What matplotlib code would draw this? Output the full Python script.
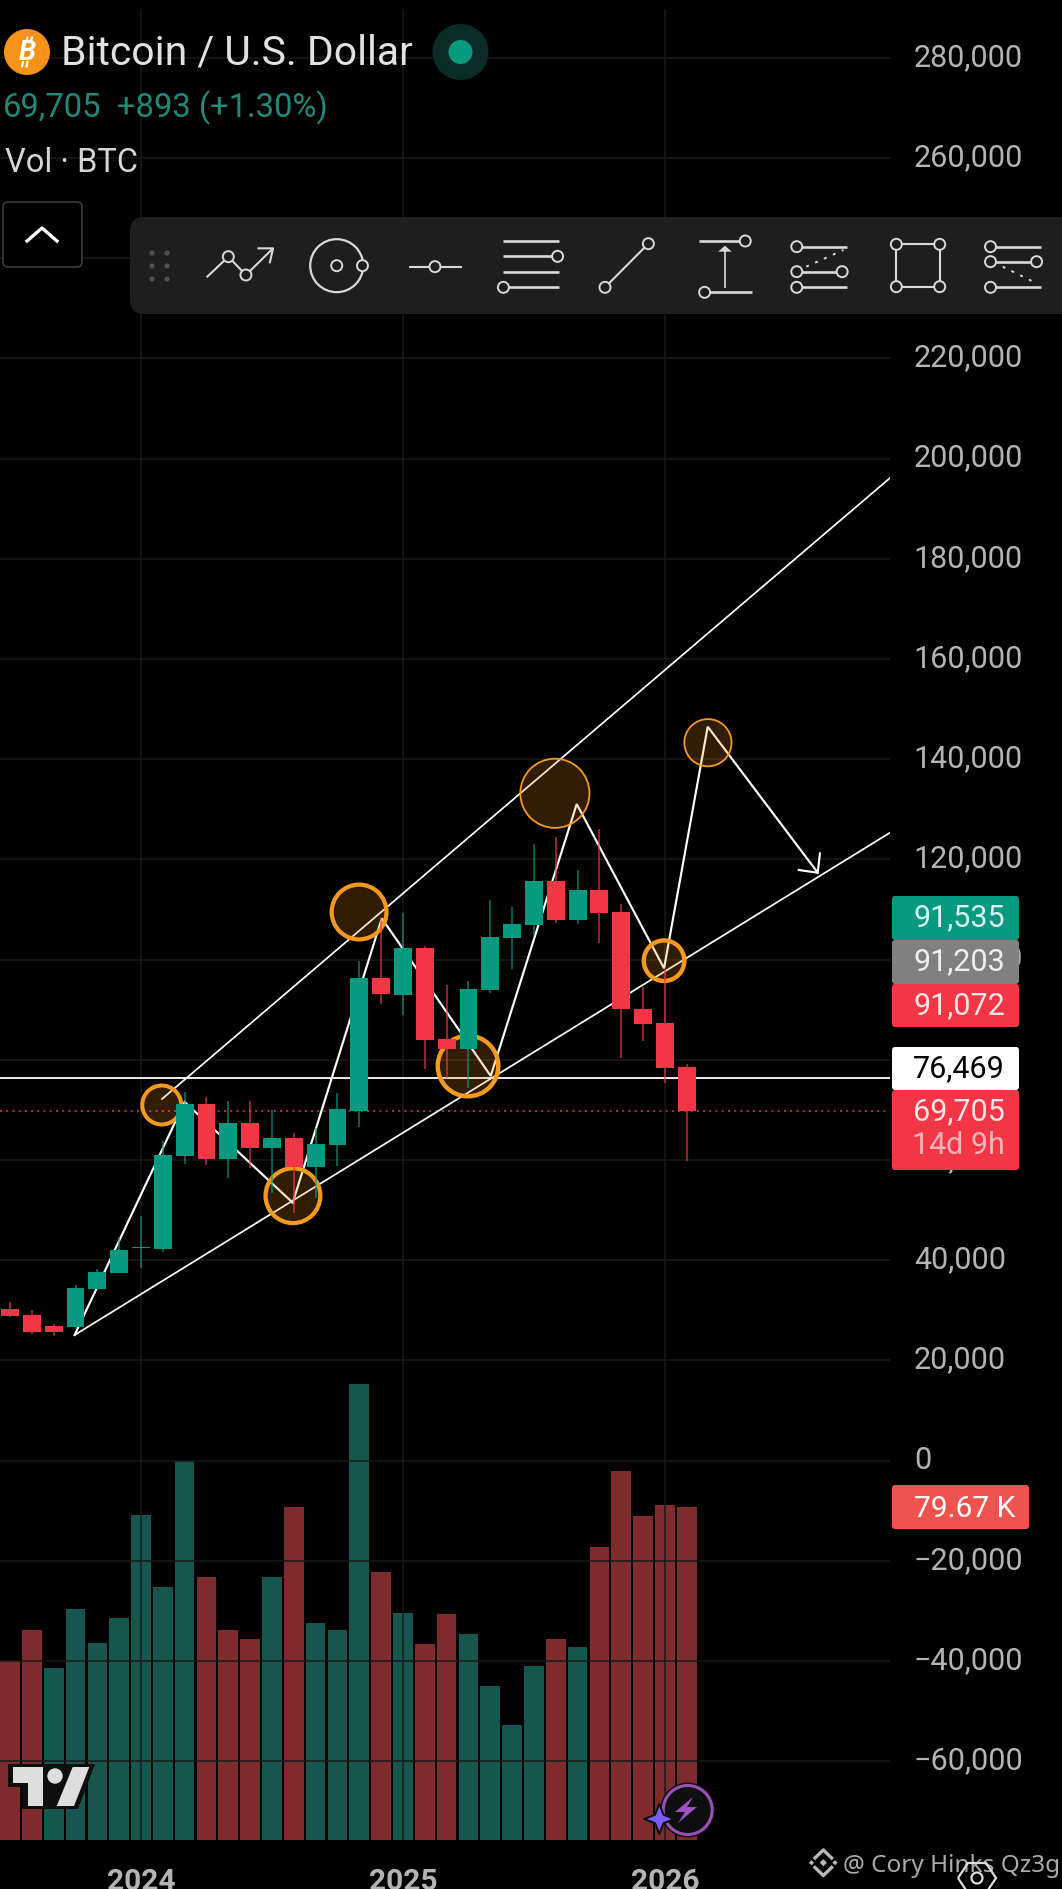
import numpy as np
import matplotlib
matplotlib.use("Agg")
from matplotlib import pyplot as plt
from matplotlib.patches import Circle, FancyBboxPatch, Polygon
from matplotlib.transforms import ScaledTranslation

plt.rcParams['font.family'] = ['Roboto', 'DejaVu Sans']

# months counted from Jan 2024
months = list(range(-6, 26))
opens = [30279, 29082, 26886, 26686, 34271, 37465, 42395, 42255, 60818, 71197, 60219, 67405,
         62415, 64411, 58682, 63014, 69800, 96347, 92954, 102335, 84171, 82175, 93952, 104331,
         106926, 115708, 107924, 113912, 109521, 90159, 87365, 78583]
highs = [31617, 30080, 27285, 35010, 38203, 44710, 48842, 63752, 73533, 72535, 71796, 71796,
         70000, 65349, 66347, 73333, 99740, 108263, 109261, 102734, 94950, 95748, 111916, 110519,
         123093, 124491, 117904, 126087, 111117, 94610, 97944, 79181]
lows = [28742, 25289, 24950, 26287, 34271, 37465, 38523, 41716, 59281, 59022, 56487, 58483,
        53493, 49501, 52435, 58882, 66607, 91157, 88962, 78183, 76387, 74391, 93353, 98143,
        104930, 107325, 107125, 103333, 80379, 83772, 75389, 59820]
closes = [28882, 25689, 25689, 34471, 37665, 42056, 42595, 61018, 71197, 60219, 67405, 62415,
          64411, 58682, 63213, 70199, 96347, 93153, 102335, 83972, 82175, 94151, 104531, 107125,
          115708, 107924, 113912, 109321, 90159, 87165, 78383, 69705]
volumes = [42.8, 50.2, 41.1, 55.3, 47.1, 53.1, 77.8, 60.5, 90.7, 62.9, 50.2, 48.1,
           62.9, 79.7, 51.9, 50.2, 109.1, 64.1, 54.3, 46.9, 54.1, 49.3, 36.8, 27.5,
           41.6, 48.1, 46.2, 70.1, 88.3, 77.5, 80.1, 79.67]
# volume colour does not always follow the candle shown, so keep it
vol_up = [0, 0, 1, 1, 1, 1, 1, 1, 1, 0, 0, 0, 1, 0, 1, 1, 1, 0, 1, 0, 0, 1, 1, 1, 1, 0, 1, 0, 0, 0, 0, 0]

price_ticks = list(range(-60000, 280001, 20000))
year_ticks = [0, 12, 24]
year_labels = ['2024', '2025', '2026']

last_price = 69705
hline_price = 76469

# drawings on the chart (month, price)
upper_x = [0.96, 34.31]
upper_y = [72195, 196147]
lower_x = [-3.04, 34.31]
lower_y = [25090, 125349]
zig_x = [-3.04, 2.0, 6.95, 11.03, 16.02, 19.96, 23.96, 25.96, 31.0]
zig_y = [25090, 71597, 51497, 108263, 76786, 131077, 98283, 146506, 117365]
barb_x = [31.1, 31.0, 30.13]
barb_y = [121237, 117365, 117904]
circle_x = [0.95, 6.96, 9.99, 14.98, 18.96, 23.96, 25.97]
circle_y = [70998, 52894, 109521, 78782, 133213, 99800, 143313]
circle_d = [43, 59, 59, 65, 71, 45, 49]
circle_lw = [4, 4.2, 4.2, 4.4, 1.8, 4.4, 1.8]

GREEN = '#089981'
RED = '#f23645'
VOL_GREEN = '#15574e'
VOL_RED = '#7f2b2e'
GRID = '#191919'
AXTXT = '#b4b4b4'
ORANGE = '#f7931a'
W, H = 1062, 1889

fig = plt.figure(figsize=(W / 100, H / 100), dpi=100, facecolor='black')
ax = fig.add_axes([0, (H - 1840) / H, 890 / W, 1831 / H])
vol = ax.twinx()
ax.set_facecolor('none')
vol.set_facecolor('black')
vol.set_zorder(1)
ax.set_zorder(2)

ax.set_xlim(-6.459, 34.31)
ax.set_ylim(-75709, 289760)
vol.set_ylim(0, 438)
vol.set_yticks([])

bar_col = [VOL_GREEN if u else VOL_RED for u in vol_up]
vol.bar(months, volumes, width=0.9, color=bar_col, linewidth=0)

ax.yaxis.tick_right()
ax.set_yticks(price_ticks)
ax.set_yticklabels([f'{v:,}'.replace('-', '\u2212') for v in price_ticks])
ax.set_xticks(year_ticks)
ax.set_xticklabels(year_labels, fontweight='bold')
ax.tick_params(axis='y', length=0, pad=17.2, labelsize=22, labelcolor=AXTXT)
ax.tick_params(axis='x', length=0, pad=20.5, labelsize=21.5, labelcolor=AXTXT)
# axis labels sit a little above their grid line on this app
lift = ScaledTranslation(0, 0.036, fig.dpi_scale_trans)
for t in ax.get_yticklabels():
    t.set_transform(t.get_transform() + lift)
ax.grid(True, color=GRID, linewidth=1.1, zorder=0)
ax.set_axisbelow(True)
for a in (ax, vol):
    for s in a.spines.values():
        s.set_visible(False)

# drawings sit under the candles, circles tint the lines
ax.axhline(last_price, color=RED, linewidth=1.4, linestyle=(0, (1, 2.2)), alpha=0.8, zorder=2)
ax.axhline(hline_price, color='white', linewidth=1.3, zorder=3)
ax.plot(upper_x, upper_y, color='white', linewidth=1.25, zorder=3)
ax.plot(lower_x, lower_y, color='white', linewidth=1.25, zorder=3)
ax.plot(zig_x, zig_y, color='white', linewidth=1.55, zorder=3, solid_joinstyle='miter')
ax.plot(barb_x, barb_y, color='white', linewidth=1.55, zorder=3)
for x, y, d, lw in zip(circle_x, circle_y, circle_d, circle_lw):
    s = ((d - lw) * 0.72) ** 2
    ax.scatter([x], [y], s=s, color=ORANGE, alpha=0.2, linewidths=0, zorder=4)
    ax.scatter([x], [y], s=s, facecolors='none', edgecolors='#f59a1c', linewidths=lw * 0.72, zorder=5)

# candles
cols = [GREEN if c >= o else RED for o, c in zip(opens, closes)]
ax.vlines(months, lows, highs, colors=cols, linewidth=1.1, alpha=0.8, zorder=6)
bottoms = [min(o, c) for o, c in zip(opens, closes)]
heights = [max(abs(c - o), 150) for o, c in zip(opens, closes)]
ax.bar(months, heights, bottom=bottoms, width=0.82, color=cols, linewidth=0, zorder=7)

# everything that is screen furniture goes on a pixel overlay
ui = fig.add_axes([0, 0, 1, 1], zorder=5)
ui.set_xlim(0, W)
ui.set_ylim(H, 0)
ui.axis('off')


def box(x0, y0, x1, y1, color, r=3, edge='none', lw=0, z=2):
    ui.add_patch(FancyBboxPatch((x0 + r, y0 + r), x1 - x0 - 2 * r, y1 - y0 - 2 * r,
                                boxstyle=f'round,pad={r},rounding_size={r}',
                                facecolor=color, edgecolor=edge, linewidth=lw, zorder=z))


def label(x, y, s, color='white', size=22, ha='left', weight='normal', family=None, z=3):
    ui.text(x, y, s, color=color, fontsize=size, ha=ha, va='center_baseline', fontweight=weight,
            family=family if family else ['Roboto', 'DejaVu Sans'], zorder=z)


# price tags
box(892, 896, 1019, 940, GREEN)
box(892, 940, 1019, 984, '#808080')
box(892, 984, 1019, 1027, RED)
box(892, 1047, 1019, 1090, 'white')
box(892, 1090, 1019, 1170, RED)
box(892, 1485, 1029, 1529, '#ef5350')
label(1005, 915, '91,535', '#d8f5ef', ha='right')
label(1005, 959, '91,203', '#f0f0f0', ha='right')
label(1005, 1003, '91,072', '#fde4e6', ha='right')
label(1005, 1066, '76,469', 'black', ha='right')
label(1005, 1109, '69,705', '#fde4e6', ha='right')
label(1005, 1143, '14d 9h', '#f9b4ba', ha='right')
label(914, 1506, '79.67 K', 'white', 21.5)

# header, no installed font has the bitcoin sign so it is built from a B and two stems
ui.add_patch(Circle((27, 52), 23, facecolor=ORANGE, zorder=2))
ui.text(27, 52, 'B', color='white', fontsize=20, ha='center', va='center', fontweight='bold',
        fontstyle='italic', zorder=3)
ui.plot([26.5, 27.5], [42, 37.5], color='white', linewidth=1.5, zorder=3)
ui.plot([31, 32], [42, 37.5], color='white', linewidth=1.5, zorder=3)
ui.plot([22, 23], [66.5, 62], color='white', linewidth=1.5, zorder=3)
ui.plot([26.5, 27.5], [66.5, 62], color='white', linewidth=1.5, zorder=3)
label(61, 49, 'Bitcoin / U.S. Dollar', '#e2e2e2', 29.4)
ui.add_patch(Circle((460.5, 52), 28, facecolor='#0b2b27', zorder=2))
ui.add_patch(Circle((460.5, 52), 12, facecolor=GREEN, zorder=3))
label(3, 104, '69,705', '#1f8a78', 23.6)
label(117, 104, '+893 (+1.30%)', '#1f8a78', 23.6)
label(5, 159, 'Vol \u00b7 BTC', '#d6d6d6', 23.5)

# collapse button
box(3, 202, 82, 267, 'black', r=5, edge='#3a3a3a', lw=1.2)
ui.plot([27, 42, 57], [241, 228, 241], color='white', linewidth=2.4, zorder=3)

# drawing toolbar
TB = '#1e1e1e'
ICON = '#d9d9d9'
box(130, 217, 1075, 314, TB, r=14)
for dx in (152, 167):
    for dy in (253, 266, 279):
        ui.add_patch(Circle((dx, dy), 2.6, facecolor='#505050', zorder=3))


def zp(pts):
    a = np.array(pts, dtype=float)
    return a[:, 0] / 1.476, a[:, 1] / 3


def iline(pts, ls='-', lw=1.5):
    xs, ys = zp(pts)
    ui.plot(xs, ys, color=ICON, linewidth=lw, linestyle=ls, zorder=3, solid_capstyle='butt')


def idot(x, y, r=5.5):
    ui.add_patch(Circle((x / 1.476, y / 3), r, facecolor=TB, edgecolor=ICON, linewidth=1.4, zorder=4))


iline([(305, 832), (337, 770), (363, 825), (403, 745)])
iline([(380, 745), (403, 745), (398, 790)])
idot(337, 770), idot(363, 825)
ui.add_patch(Circle((497 / 1.476, 797 / 3), 26.5, facecolor='none', edgecolor=ICON, linewidth=1.6, zorder=3))
idot(497, 797), idot(535, 797)
iline([(603, 800), (682, 800)])
idot(642, 800)
iline([(742, 723), (825, 723)], lw=1.9)
iline([(742, 769), (815, 769)], lw=1.9)
iline([(742, 816), (825, 816)], lw=1.9)
iline([(750, 862), (825, 862)], lw=1.9)
idot(823, 769), idot(743, 862)
iline([(893, 862), (957, 731)])
idot(893, 862), idot(957, 731)
iline([(1032, 723), (1092, 723)], lw=1.9)
iline([(1048, 877), (1110, 877)], lw=1.9)
iline([(1070, 865), (1070, 745)], lw=1.2)
ui.add_patch(Polygon([(1070 / 1.476, 737 / 3), (1060 / 1.476, 755 / 3), (1080 / 1.476, 755 / 3)],
                     facecolor=ICON, zorder=3))
idot(1100, 723), idot(1040, 877)
iline([(1176, 740), (1250, 740)], lw=1.9)
iline([(1176, 815), (1243, 815)], lw=1.9)
iline([(1176, 862), (1250, 862)], lw=1.9)
iline([(1190, 800), (1245, 750)], ls=(0, (1.5, 3.5)), lw=1.4)
idot(1176, 740), idot(1176, 815), idot(1243, 815), idot(1176, 862)
iline([(1323, 733), (1387, 733), (1387, 860), (1323, 860), (1323, 733)])
idot(1323, 733), idot(1387, 733), idot(1323, 860), idot(1387, 860)
iline([(1462, 740), (1536, 740)], lw=1.9)
iline([(1462, 785), (1530, 785)], lw=1.9)
iline([(1462, 862), (1536, 862)], lw=1.9)
iline([(1480, 800), (1530, 850)], ls=(0, (1.5, 3.5)), lw=1.4)
idot(1462, 740), idot(1462, 785), idot(1530, 785), idot(1462, 862)

# tradingview mark
ui.add_patch(Polygon([(8, 1764), (95, 1764), (78, 1809), (22, 1809), (22, 1787), (8, 1787)],
                     facecolor='#0e0e0e', zorder=3))
ui.add_patch(Polygon([(12.7, 1767), (43, 1767), (43, 1806), (27.5, 1806), (27.5, 1783), (12.7, 1783)],
                     facecolor='#dedede', zorder=4))
ui.add_patch(Circle((55, 1776), 7.7, facecolor='#dedede', zorder=4))
ui.add_patch(Polygon([(72.7, 1767), (89.3, 1767), (74, 1806), (56.7, 1806)], facecolor='#dedede', zorder=4))

# purple badge
ui.add_patch(Circle((687.7, 1810), 27.5, facecolor='#0e0e0e', zorder=3))
ui.add_patch(Circle((687.7, 1810), 24.5, facecolor='#0e0e0e', edgecolor='#9b4fb8', linewidth=2.2, zorder=3))
ui.add_patch(Polygon([(693, 1797), (675, 1812), (685, 1812), (678, 1823), (697, 1807), (687, 1807)],
                     facecolor='#a352c4', zorder=4))
ang = np.arange(8) * np.pi / 4
rad = np.where(np.arange(8) % 2 == 0, 15, 6)
ui.add_patch(Polygon(np.c_[659.3 + rad * np.sin(ang), 1819 - rad * np.cos(ang)], facecolor='#7a5cff',
                     edgecolor='#101010', linewidth=1.5, zorder=5, joinstyle='round'))

# binance square watermark
ui.plot([815, 823.3, 831.6], [1858, 1850, 1858], color='#b8b8b8', linewidth=2.4, zorder=3)
ui.plot([815, 823.3, 831.6], [1867.5, 1875.5, 1867.5], color='#b8b8b8', linewidth=2.4, zorder=3)
for cx, cy, r in [(823.3, 1862.7, 3.6), (811.5, 1862.7, 2.6), (835, 1862.7, 2.6)]:
    ui.add_patch(Polygon([(cx, cy - r), (cx + r, cy), (cx, cy + r), (cx - r, cy)], facecolor='#b8b8b8', zorder=3))
label(843, 1863, '@ Cory Hinks Qz3g', '#ababab', 17.5, family=['Noto Sans', 'DejaVu Sans'])
ui.add_patch(Polygon([(958, 1878), (968, 1863), (986, 1863), (996, 1878), (986, 1893), (968, 1893)],
                     facecolor='none', edgecolor='#dcdcdc', linewidth=1.6, zorder=4))
ui.add_patch(Circle((977, 1878), 5.5, facecolor='none', edgecolor='#dcdcdc', linewidth=1.6, zorder=4))

fig.savefig('out.png', dpi=100, facecolor='black')
